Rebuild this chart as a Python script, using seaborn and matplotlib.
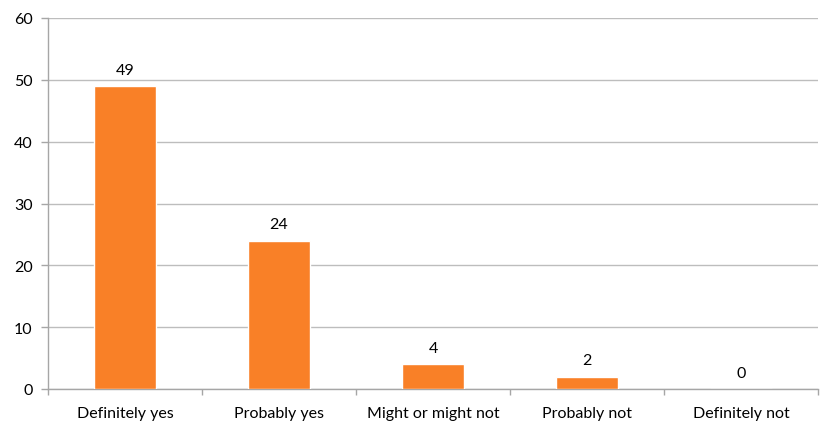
import matplotlib
matplotlib.use("Agg")
import matplotlib.pyplot as plt
import seaborn as sns
import pandas as pd
import numpy as np

categories = ["Definitely yes", "Probably yes", "Might or might not", "Probably not", "Definitely not"]
values = [49, 24, 4, 2, 0]
y_ticks = [0, 10, 20, 30, 40, 50, 60]

sns.set_style("white")
plt.rcParams['font.family'] = ['Lato', 'DejaVu Sans']

df = pd.DataFrame({"category": categories, "value": values})

fig = plt.figure(figsize=(8.38, 4.35), dpi=100)
ax = fig.add_axes([48/838, 1-390/435, (818-48)/838, (390-19)/435])

sns.barplot(data=df, x="category", y="value", color="#F98027", saturation=1,
            width=0.4, ax=ax, zorder=3)

ax.set_xlim(-0.5, len(categories)-0.5)
ax.set_ylim(0, 60)
ax.set_yticks(y_ticks)
ax.set_yticklabels([str(t) for t in y_ticks])
ax.yaxis.grid(True, color="#BDBDBD", linewidth=1.0, zorder=0)
ax.xaxis.grid(False)
ax.set_xlabel("")
ax.set_ylabel("")

for s in ["top", "right"]:
    ax.spines[s].set_visible(False)
for s in ["left", "bottom"]:
    ax.spines[s].set_color("#A6A6A6")
    ax.spines[s].set_linewidth(1.0)

ax.tick_params(axis="y", which="major", length=5, color="#A6A6A6", width=1,
               labelsize=11.5, labelcolor="black", pad=6, left=True)
ax.tick_params(axis="x", which="major", length=0, labelsize=11.5, labelcolor="black", pad=12)
ax.set_xticks(np.arange(-0.5, len(categories), 1.0), minor=True)
ax.tick_params(axis="x", which="minor", length=4, color="#A6A6A6", width=1, bottom=True)

for i, v in enumerate(values):
    ax.text(i, v + 1.5, str(v), ha="center", va="bottom", fontsize=11.5, color="black")

fig.savefig("out.png", dpi=100)
